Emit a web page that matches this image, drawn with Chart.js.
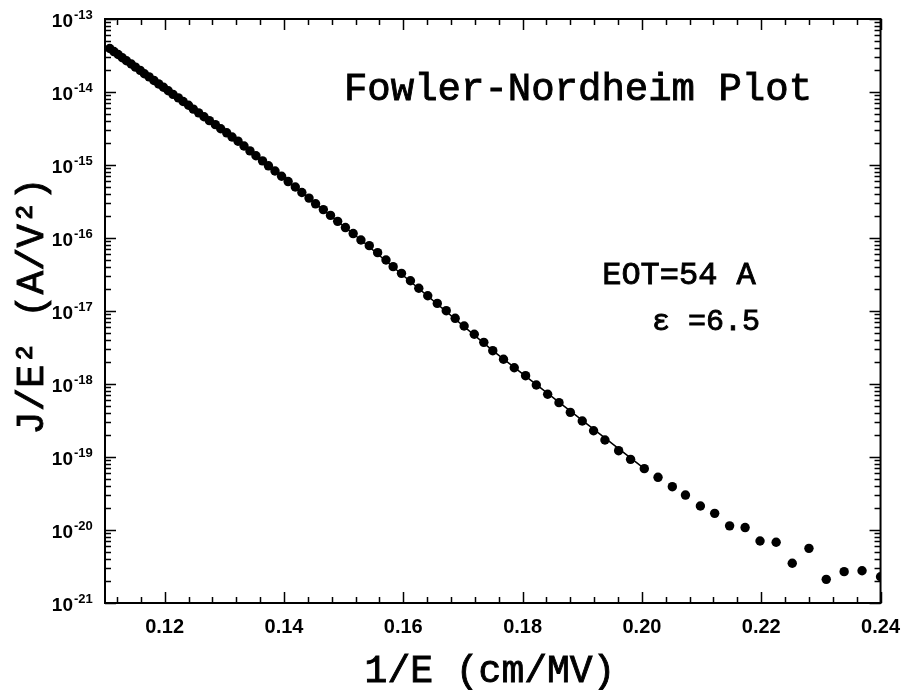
<!DOCTYPE html>
<html>
<head>
<meta charset="utf-8">
<script src="https://cdn.jsdelivr.net/npm/chart.js@4.4.1/dist/chart.umd.min.js"></script>
<style>
  html, body { margin: 0; padding: 0; background: #fff; }
  canvas { display: block; }
</style>
</head>
<body>
<canvas id="fnPlot" width="912" height="690"></canvas>
<script>
// 1/E (cm/MV) for each measured point
const invField = [0.1108, 0.1115, 0.1122, 0.1129, 0.1136, 0.1144, 0.1151, 0.1159, 0.1166, 0.1174,
  0.1182, 0.1190, 0.1198, 0.1206, 0.1214, 0.1223, 0.1231, 0.1240, 0.1248, 0.1257,
  0.1266, 0.1275, 0.1285, 0.1294, 0.1304, 0.1313, 0.1323, 0.1333, 0.1343, 0.1353,
  0.1364, 0.1374, 0.1385, 0.1396, 0.1407, 0.1419, 0.1430, 0.1442, 0.1453, 0.1466,
  0.1478, 0.1490, 0.1503, 0.1516, 0.1529, 0.1543, 0.1557, 0.1571, 0.1583, 0.1597,
  0.1612, 0.1626, 0.1641, 0.1657, 0.1672, 0.1687, 0.1702, 0.1719, 0.1735, 0.1750,
  0.1768, 0.1786, 0.1805, 0.1823, 0.1842, 0.1861, 0.1880, 0.1900, 0.1919, 0.1938,
  0.1961, 0.1981, 0.2004, 0.2027, 0.2051, 0.2073, 0.2098, 0.2122, 0.2147, 0.2173,
  0.2198, 0.2225, 0.2252, 0.2280, 0.2309, 0.2339, 0.2369, 0.2400]

// J/E^2 (A/V^2)
const jOverE2 = [3.94e-14, 3.58e-14, 3.26e-14, 2.95e-14, 2.68e-14, 2.42e-14, 2.19e-14, 1.98e-14, 1.78e-14, 1.61e-14,
  1.44e-14, 1.29e-14, 1.16e-14, 1.04e-14, 9.29e-15, 8.30e-15, 7.40e-15, 6.58e-15, 5.83e-15, 5.18e-15,
  4.58e-15, 4.05e-15, 3.57e-15, 3.14e-15, 2.76e-15, 2.42e-15, 2.12e-15, 1.82e-15, 1.56e-15, 1.34e-15,
  1.14e-15, 9.75e-16, 8.28e-16, 7.02e-16, 5.93e-16, 5.00e-16, 4.20e-16, 3.52e-16, 2.94e-16, 2.45e-16,
  2.04e-16, 1.69e-16, 1.39e-16, 1.15e-16, 9.40e-17, 7.85e-17, 6.30e-17, 5.00e-17, 4.05e-17, 3.28e-17,
  2.60e-17, 2.05e-17, 1.62e-17, 1.27e-17, 1.01e-17, 7.94e-18, 6.24e-18, 4.80e-18, 3.72e-18, 2.86e-18,
  2.18e-18, 1.67e-18, 1.30e-18, 9.68e-19, 7.23e-19, 5.55e-19, 4.09e-19, 3.11e-19, 2.29e-19, 1.71e-19,
  1.22e-19, 9.29e-20, 6.92e-20, 5.27e-20, 3.92e-20, 3.01e-20, 2.13e-20, 1.69e-20, 1.14e-20, 1.08e-20,
  7.06e-21, 6.79e-21, 3.50e-21, 5.61e-21, 2.11e-21, 2.69e-21, 2.77e-21, 2.29e-21]

// FN fit line through the straight part
const fitX = [0.1108, 0.1323, 0.1529, 0.1750, 0.2004]
const fitY = [3.94e-14, 2.12e-15, 9.40e-17, 2.86e-18, 6.92e-20]

const xMajorTicks = [0.12, 0.14, 0.16, 0.18, 0.20, 0.22, 0.24]
const xMinorTicks = [0.112, 0.116, 0.124, 0.128, 0.132, 0.136, 0.144, 0.148, 0.152, 0.156,
  0.164, 0.168, 0.172, 0.176, 0.184, 0.188, 0.192, 0.196, 0.204, 0.208, 0.212, 0.216,
  0.224, 0.228, 0.232, 0.236]
const yDecades = [-21, -20, -19, -18, -17, -16, -15, -14, -13]
const yMinorMantissas = [2, 3, 4, 5, 6, 7, 8, 9]

const mono = "'Liberation Mono', 'Courier New', monospace"
const sans = "'Liberation Sans', Arial, sans-serif"

const points = invField.map((v, i) => ({ x: v, y: jOverE2[i] }))
const fitPoints = fitX.map((v, i) => ({ x: v, y: fitY[i] }))

// typewriter text, a bit heavier than the regular face
function monoText(ctx, text, x, y, size) {
  ctx.font = size + 'px ' + mono
  ctx.lineWidth = 0.9
  ctx.fillText(text, x, y)
  ctx.strokeText(text, x, y)
}

// inward ticks on all four sides, box frame, y labels and text notes
const framePlugin = {
  id: 'framePlugin',
  afterDraw(chart) {
    const { ctx, chartArea: a, scales } = chart
    const x = scales.x, y = scales.y
    ctx.save()
    ctx.strokeStyle = '#000'
    ctx.lineWidth = 1.5

    function tickX(v, len) {
      const px = Math.round(x.getPixelForValue(v)) + 0.5
      ctx.beginPath()
      ctx.moveTo(px, a.bottom); ctx.lineTo(px, a.bottom - len)
      ctx.moveTo(px, a.top); ctx.lineTo(px, a.top + len)
      ctx.stroke()
    }
    function tickY(v, len) {
      const py = Math.round(y.getPixelForValue(v)) + 0.5
      ctx.beginPath()
      ctx.moveTo(a.left, py); ctx.lineTo(a.left + len, py)
      ctx.moveTo(a.right, py); ctx.lineTo(a.right - len, py)
      ctx.stroke()
    }
    xMajorTicks.forEach(v => tickX(v, 11))
    xMinorTicks.forEach(v => tickX(v, 6))
    yDecades.forEach(d => {
      tickY(Math.pow(10, d), 11)
      if (d < -13) yMinorMantissas.forEach(m => tickY(m * Math.pow(10, d), 6))
    })

    ctx.lineWidth = 2
    ctx.strokeRect(a.left, a.top, a.right - a.left, a.bottom - a.top)

    // y tick labels 10^n
    ctx.fillStyle = '#000'
    ctx.textBaseline = 'middle'
    yDecades.forEach(d => {
      const py = y.getPixelForValue(Math.pow(10, d))
      ctx.font = 'bold 19px ' + sans
      ctx.textAlign = 'right'
      ctx.fillText('10', 73, py + 3)
      ctx.font = 'bold 13px ' + sans
      ctx.textAlign = 'left'
      ctx.fillText(String(d), 74, py - 4)
    })

    // axis titles
    ctx.textAlign = 'center'
    ctx.textBaseline = 'alphabetic'
    monoText(ctx, '1/E (cm/MV)', 490, 682, 38)

    ctx.save()
    ctx.translate(33, 306)
    ctx.rotate(-Math.PI / 2)
    ctx.textBaseline = 'middle'
    monoText(ctx, 'J/E\u00B2 (A/V\u00B2)', 0, 0, 39)
    ctx.restore()

    // notes in the plot
    monoText(ctx, 'Fowler-Nordheim Plot', 578, 100, 39)
    monoText(ctx, 'EOT=54 A', 679, 284, 32)
    monoText(ctx, '\u03B5 =6.5', 706, 330, 30)
    ctx.restore()
  }
}

new Chart(document.getElementById('fnPlot'), {
  type: 'scatter',
  data: {
    datasets: [
      {
        label: 'fit',
        data: fitPoints,
        showLine: true,
        borderColor: '#000',
        borderWidth: 1.5,
        pointRadius: 0,
        clip: 0
      },
      {
        label: 'J/E2',
        data: points,
        backgroundColor: '#000',
        borderWidth: 0,
        pointRadius: 4.7,
        clip: 0
      }
    ]
  },
  options: {
    responsive: false,
    animation: false,
    devicePixelRatio: 1,
    layout: { padding: { top: 19, right: 27, left: 0, bottom: 0 } },
    plugins: { legend: { display: false }, tooltip: { enabled: false } },
    scales: {
      x: {
        type: 'linear',
        min: 0.11,
        max: 0.24,
        afterBuildTicks: s => { s.ticks = xMajorTicks.map(v => ({ value: v })) },
        afterFit: s => { s.height = 87 },
        grid: { display: false, drawTicks: false },
        border: { display: false },
        ticks: {
          color: '#000',
          padding: 12,
          maxRotation: 0,
          autoSkip: false,
          font: { family: sans, size: 20, weight: 'bold' },
          callback: v => v.toFixed(2)
        }
      },
      y: {
        type: 'logarithmic',
        min: 1e-21,
        max: 1e-13,
        afterFit: s => { s.width = 105 },
        grid: { display: false, drawTicks: false },
        border: { display: false },
        ticks: { display: false }
      }
    }
  },
  plugins: [framePlugin]
})
</script>
</body>
</html>
